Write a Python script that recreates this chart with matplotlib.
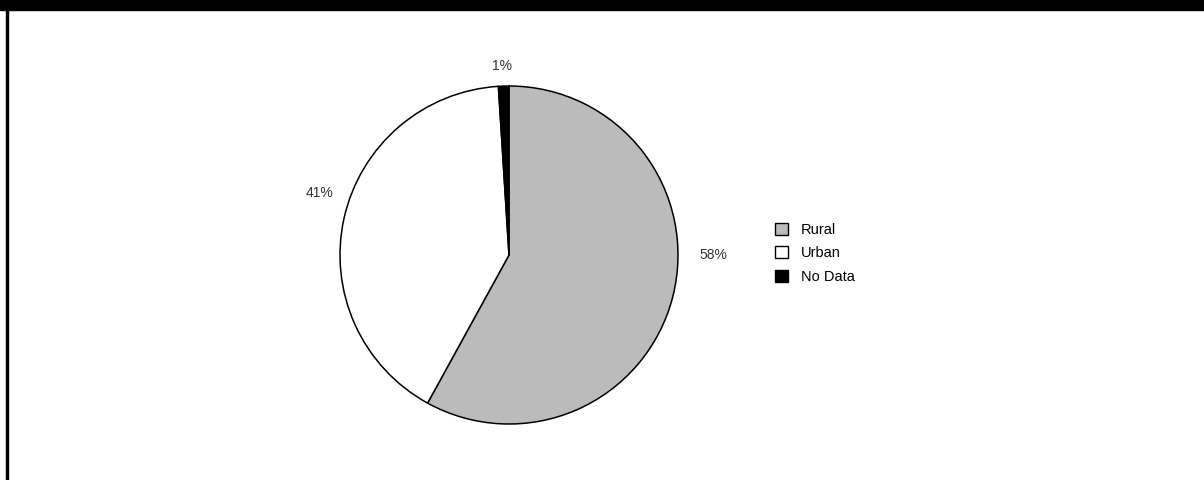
import numpy as np
import matplotlib.pyplot as plt
from matplotlib.patches import Patch, Rectangle

labels = ['Rural', 'Urban', 'No Data']
values = [58, 41, 1]
colors = ['#bbbbbb', '#ffffff', '#000000']

plt.rcParams['font.family'] = ['Liberation Sans', 'DejaVu Sans']

fig = plt.figure(figsize=(12.04, 4.8), dpi=100)
ax = fig.add_axes([0, 0, 1, 1])

cx, cy, r = 509, 225, 169
wedges, texts, autotexts = ax.pie(values, colors=colors, startangle=90, counterclock=False,
                                  center=(cx, cy), radius=r, frame=True,
                                  autopct='%.0f%%', pctdistance=1.17,
                                  wedgeprops=dict(edgecolor='black', linewidth=1.1),
                                  textprops=dict(fontsize=10, color='#333333'))
ax.set_xlim(0, 1204)
ax.set_ylim(0, 480)
ax.axis('off')

# label placement like the original (angle from the top, clockwise; distance in radii)
lab_ang = [90, 288, 358]
lab_dist = [1.21, 1.18, 1.12]
for t, a, d in zip(autotexts, lab_ang, lab_dist):
    a = np.deg2rad(a)
    t.set_position((cx + d * r * np.sin(a), cy + d * r * np.cos(a)))

# frame: black bar on top, line down the left
fig.patches.append(Rectangle((0, 1 - 10 / 480), 1, 10 / 480, transform=fig.transFigure,
                             color='black', zorder=5))
fig.patches.append(Rectangle((6 / 1204, 0), 2 / 1204, 1, transform=fig.transFigure,
                             color='black', zorder=5))

handles = [Patch(facecolor=c, edgecolor='black', linewidth=1) for c in colors]
fig.legend(handles, labels, loc='upper left', bbox_to_anchor=(775 / 1204, 1 - 223 / 480),
           frameon=False, borderpad=0, borderaxespad=0, handlelength=0.9, handleheight=0.9,
           handletextpad=0.85, labelspacing=0.63, fontsize=10.5)

fig.savefig('out.png', dpi=100)
